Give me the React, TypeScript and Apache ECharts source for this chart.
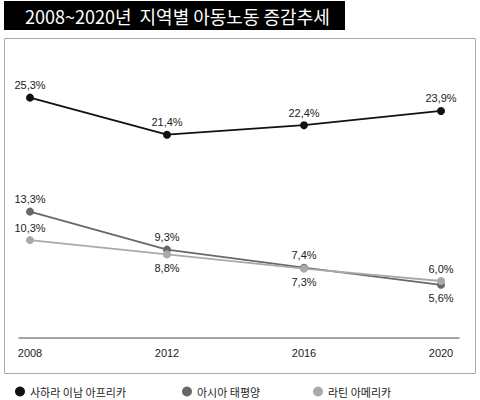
import React, { useEffect, useRef } from "react";
import * as echarts from "echarts";

const years = [2008, 2012, 2016, 2020];
const seriesNames = ["사하라 이남 아프리카", "아시아 태평양", "라틴 아메리카"];
const subSaharan = [25.3, 21.4, 22.4, 23.9];
const asiaPacific = [13.3, 9.3, 7.4, 5.6];
const latinAmerica = [10.3, 8.8, 7.3, 6.0];
const subSaharanPos = ["top", "top", "top", "top"];
const asiaPacificPos = ["top", "top", "top", "bottom"];
const latinAmericaPos = ["top", "bottom", "bottom", "top"];
const colors = ["#111111", "#686868", "#a9a9a9"];
const title = "2008~2020년  지역별 아동노동 증감추세";

const FONT = "'Liberation Sans', Arial, sans-serif";
const KFONT = "'Noto Sans CJK KR', sans-serif";

function makeSeries(name: string, values: number[], pos: string[], color: string) {
  return {
    name,
    type: "line",
    data: values.map((v, i) => ({
      value: [years[i], v],
      label: { position: pos[i], distance: pos[i] === "top" ? 3 : 4 },
    })),
    symbol: "circle",
    symbolSize: 8,
    itemStyle: { color },
    lineStyle: { color, width: 1.8 },
    label: {
      show: true,
      color: "#222",
      fontSize: 11,
      fontFamily: FONT,
      formatter: (p: any) => p.value[1].toFixed(1).replace(".", ",") + "%",
    },
  };
}

export default function App() {
  const ref = useRef<HTMLDivElement>(null);
  useEffect(() => {
    if (!ref.current) return;
    const chart = echarts.init(ref.current, null, { renderer: "svg" });
    const pxPerYear = 411 / 12;
    const gridLeft = 19;
    const gridRight = 21;
    const gridWidth = 480 - gridLeft - gridRight;
    const xMin = years[0] - (30 - gridLeft) / pxPerYear;
    const xMax = xMin + gridWidth / pxPerYear;
    chart.setOption({
      animation: false,
      backgroundColor: "#ffffff",
      graphic: [
        { type: "rect", shape: { x: 4, y: 1, width: 341, height: 29 }, style: { fill: "#000" } },
        {
          type: "text",
          x: 25,
          y: 16,
          style: {
            text: title,
            fill: "#fff",
            fontSize: 18,
            fontFamily: KFONT,
            verticalAlign: "middle",
          },
        },
        {
          type: "rect",
          shape: { x: 4.5, y: 38.5, width: 471, height: 335 },
          style: { fill: "none", stroke: "#aaaaaa", lineWidth: 1 },
          z: -1,
        },
      ],
      grid: { left: gridLeft, right: gridRight, top: 53, bottom: 62 },
      xAxis: {
        type: "value",
        min: xMin,
        max: xMax,
        axisLine: { show: true, lineStyle: { color: "#888", width: 1.5 } },
        axisTick: { show: false },
        splitLine: { show: false },
        axisLabel: {
          customValues: years,
          formatter: (v: number) => String(Math.round(v)),
          color: "#222",
          fontSize: 11,
          fontFamily: FONT,
          margin: 9,
        },
      },
      yAxis: {
        type: "value",
        min: 0,
        max: 30,
        show: false,
      },
      legend: [
        { left: 15, data: [seriesNames[0]] },
        { left: 182, data: [seriesNames[1]] },
        { left: 313, data: [seriesNames[2]] },
      ].map((l) => ({
        ...l,
        top: 386,
        padding: 0,
        icon: "circle",
        itemWidth: 10,
        itemHeight: 10,
        itemGap: 5,
        textStyle: { color: "#222", fontSize: 11, fontFamily: KFONT },
      })),
      series: [
        makeSeries(seriesNames[0], subSaharan, subSaharanPos, colors[0]),
        makeSeries(seriesNames[1], asiaPacific, asiaPacificPos, colors[1]),
        makeSeries(seriesNames[2], latinAmerica, latinAmericaPos, colors[2]),
      ],
    });
    return () => chart.dispose();
  }, []);
  return (
    <div
      ref={ref}
      style={{ position: "fixed", left: 0, top: 0, width: 480, height: 400 }}
    />
  );
}
